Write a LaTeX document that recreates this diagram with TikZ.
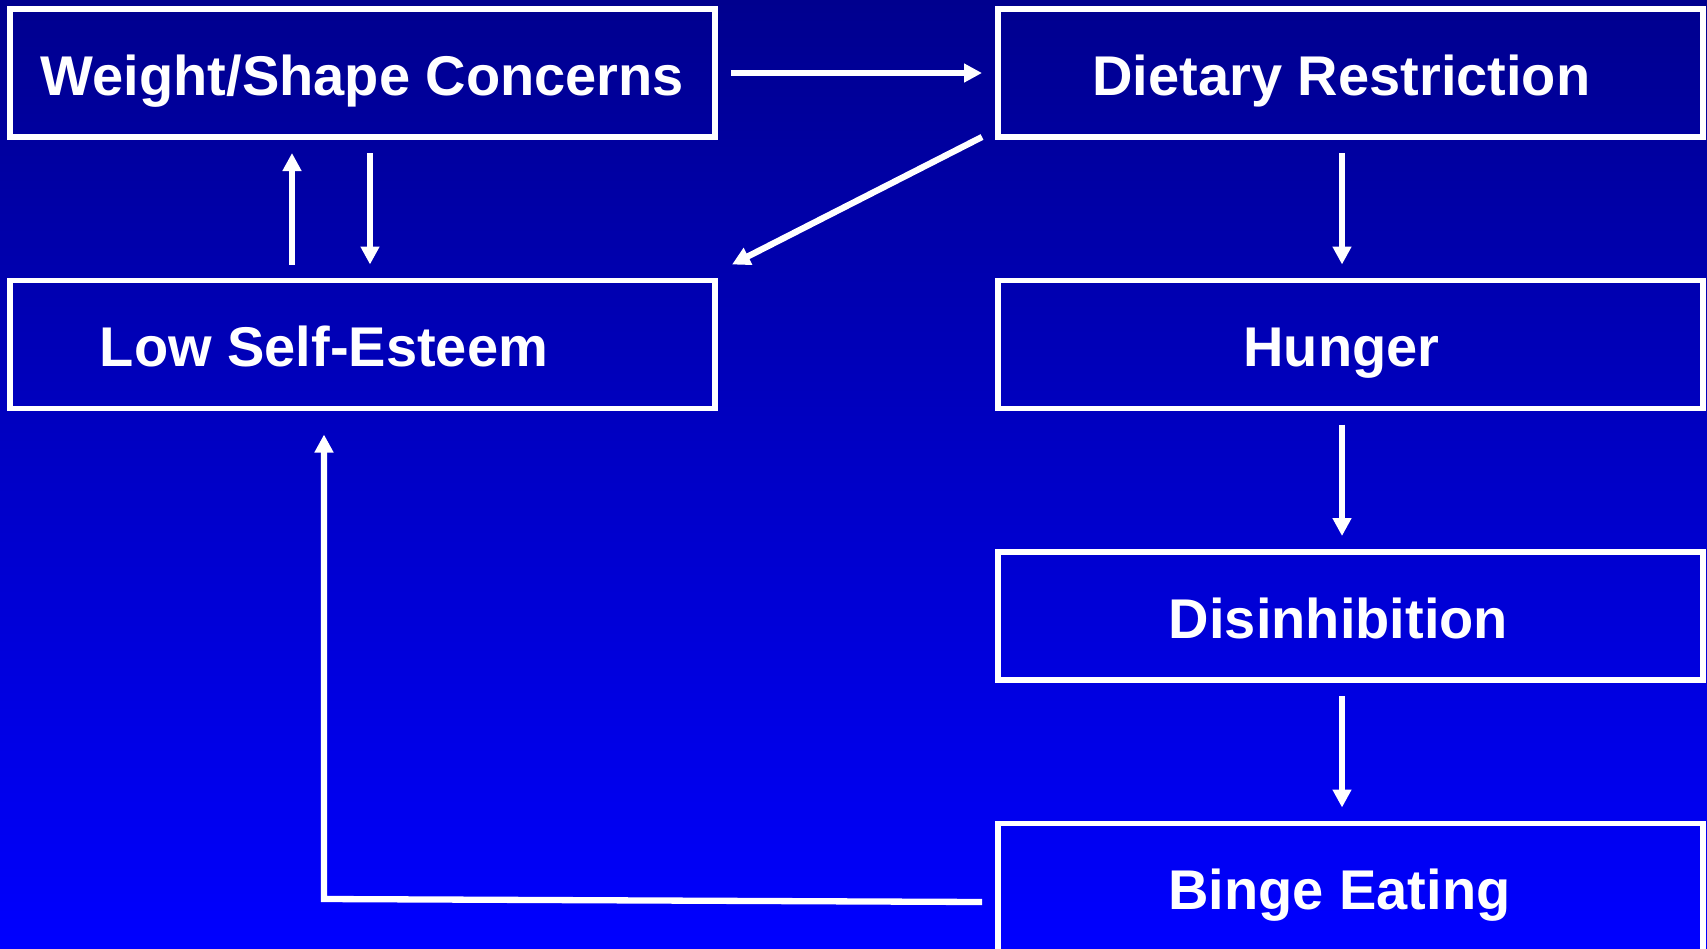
\documentclass[tikz,border=0pt]{standalone}
\usepackage{fontspec}
\setmainfont{Liberation Sans}
\usetikzlibrary{positioning,arrows.meta}
\definecolor{slidetop}{RGB}{0,0,142}
\definecolor{slidebottom}{RGB}{0,0,255}

\begin{document}
\begin{tikzpicture}[x=1pt, y=-1pt,
    block/.style={
        rectangle,
        draw=white,
        line width=5.5pt,
        minimum width=705pt,
        minimum height=128pt,
        inner sep=0pt,
        outer sep=0pt,
        text=white,
        font=\fontsize{56}{60}\selectfont\bfseries,
        text height=44pt,
        text depth=0pt
    },
    arrow/.style={-{Triangle[length=18pt,width=18pt]}, line width=6.3pt, white, shorten <=16pt, shorten >=16pt}]

    % Slide background
    \useasboundingbox (0,0) rectangle (1707,948);
    \clip (0,0) rectangle (1707,948);
    \shade[top color=slidetop, bottom color=slidebottom] (0,0) rectangle (1707,948);

    % Boxes
    \node[block] (weight) at (362.5,73) {Weight/Shape Concerns};
    \node[block] (diet) at (1350.5,73) {Dietary Restriction\hspace*{18pt}};
    \node[block] (low) at (362.5,344.5) {Low Self-Esteem\hspace*{77pt}};
    \node[block] (hunger) at (1350.5,344.5) {Hunger\hspace*{18pt}};
    \node[block] (disinhib) at (1350.5,616) {Disinhibition\hspace*{24pt}};
    \node[block] (binge) at (1350.5,887.5) {Binge Eating\hspace*{22pt}};

    % Connect with arrows
    \draw[arrow] (weight) -- (diet);
    \draw[arrow] ([xshift=-70.5pt]low.north) -- ([xshift=-70.5pt]weight.south);
    \draw[arrow] ([xshift=7.5pt]weight.south) -- ([xshift=7.5pt]low.north);
    \draw[arrow, shorten <=0pt, shorten >=0pt] ([xshift=-16pt]diet.south west) -- ([xshift=17pt,yshift=16pt]low.north east);
    \draw[arrow] ([xshift=-8.5pt]diet.south) -- ([xshift=-8.5pt]hunger.north);
    \draw[arrow] ([xshift=-8.5pt]hunger.south) -- ([xshift=-8.5pt]disinhib.north);
    \draw[arrow] ([xshift=-8.5pt]disinhib.south) -- ([xshift=-8.5pt]binge.north);

    % Feedback loop
    \coordinate (loopcorner) at (324,899);
    \draw[arrow, shorten <=0pt, shorten >=0pt] ([xshift=-16pt,yshift=-14.5pt]binge.west) -- (loopcorner) -- ([xshift=-38.5pt,yshift=-26pt]low.south);
\end{tikzpicture}
\end{document}
